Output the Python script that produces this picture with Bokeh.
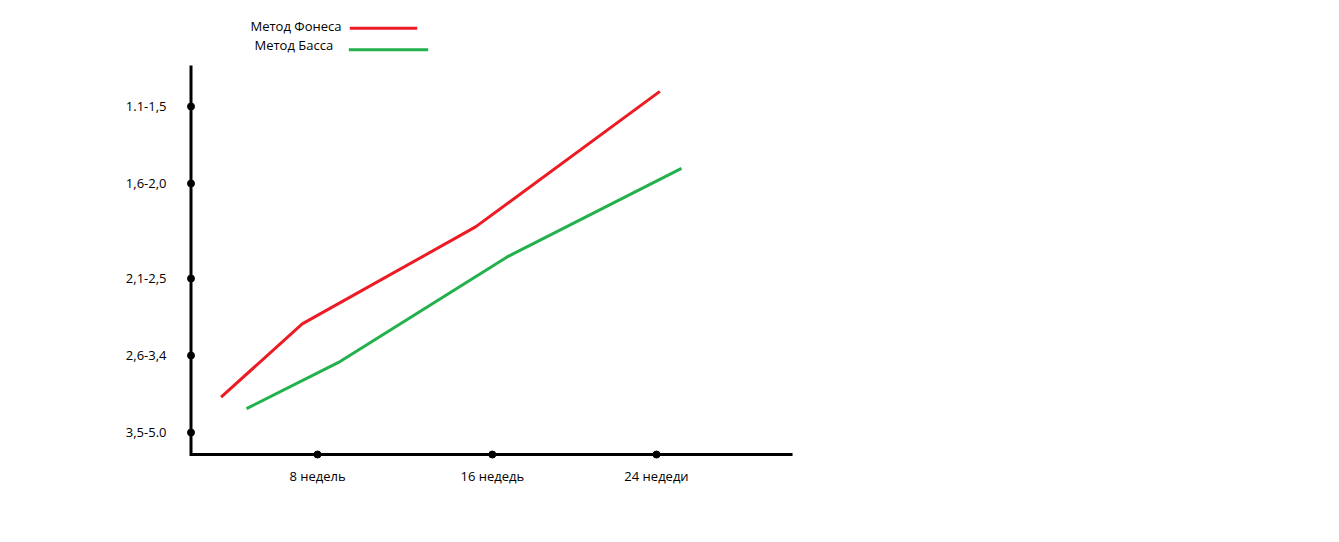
from bokeh.plotting import figure
from bokeh.models import FixedTicker, Range1d
from bokeh.core.properties import value
from bokeh.embed import file_html
from bokeh.resources import INLINE

# ---- data ----
y_categories = ["3,5-5.0", "2,6-3,4", "2,1-2,5", "1,6-2,0", "1.1-1,5"]
x_labels = ["8 недель", "16 недедь", "24 недеди"]
series_names = ["Метод Фонеса", "Метод Басса"]

fones_weeks = [3.45, 7.28, 15.46, 24.16]
fones_level = [0.46, 1.41, 2.67, 4.43]
bass_weeks = [4.65, 8.99, 16.95, 25.18]
bass_level = [0.31, 0.91, 2.28, 3.43]

# ---- layout ----
FONT = "Open Sans"
FS = "13px"
RED = "#ED1C24"
GREEN = "#22B14C"
y_tick_pos = [0, 1, 2, 3.234, 4.234]
x_tick_pos = [8, 16.25, 24]
axis_x = 2.03
axis_y = -0.286
axis_top = 4.766
axis_right = 30.42

p = figure(width=1323, height=526, output_backend="svg", toolbar_location=None,
           x_range=Range1d(1.487, 55.48), y_range=Range1d(-0.4156, 5.5065),
           min_border=0, min_border_left=179, min_border_right=0,
           min_border_top=8, min_border_bottom=62)
p.outline_line_color = None
p.grid.visible = False
p.background_fill_color = "white"
p.border_fill_color = "white"

# axes (labels only)
for ax in (p.xaxis[0], p.yaxis[0]):
    ax.axis_line_color = None
    ax.major_tick_line_color = None
    ax.minor_tick_line_color = None
    ax.major_tick_out = 0
    ax.major_tick_in = 0
    ax.major_label_text_font = FONT
    ax.major_label_text_font_size = FS
    ax.major_label_text_color = "black"

p.yaxis[0].ticker = FixedTicker(ticks=y_tick_pos)
p.yaxis[0].major_label_overrides = {t: s for t, s in zip(y_tick_pos, y_categories)}
p.yaxis[0].major_label_standoff = 13
p.xaxis[0].ticker = FixedTicker(ticks=x_tick_pos)
p.xaxis[0].major_label_overrides = {t: s for t, s in zip(x_tick_pos, x_labels)}
p.xaxis[0].major_label_standoff = 2

# hand-drawn axis lines
p.line([axis_x, axis_x, axis_right], [axis_top, axis_y, axis_y],
       line_color="black", line_width=3, line_join="miter")
p.scatter([axis_x] * len(y_tick_pos), y_tick_pos, size=7, color="black")
p.scatter(x_tick_pos, [axis_y] * len(x_tick_pos), size=7, color="black")

# series
p.line(fones_weeks, fones_level, line_color=RED, line_width=3)
p.line(bass_weeks, bass_level, line_color=GREEN, line_width=3)

# legend (hand-made)
p.text([4.838, 5.027], [5.277, 5.026], text=series_names,
       text_font=value(FONT), text_font_size=FS, text_color="black",
       text_align="left", text_baseline="middle")
p.segment(x0=[9.524, 9.477], y0=[5.251, 4.970], x1=[12.706, 13.224], y1=[5.251, 4.970],
          line_color=[RED, GREEN], line_width=3)

open("out.html", "w").write(file_html(p, INLINE))
